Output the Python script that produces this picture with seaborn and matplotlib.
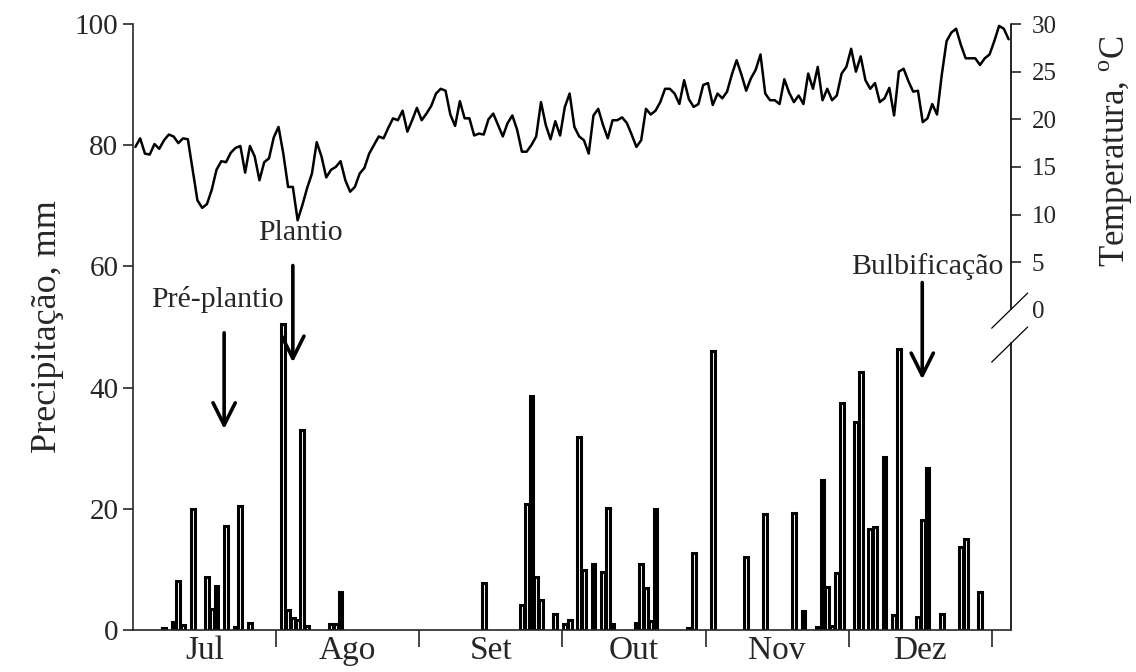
import matplotlib
matplotlib.use("Agg")
import matplotlib.pyplot as plt
import seaborn as sns
import numpy as np
import pandas as pd

# Data: daily rainfall (day index from start of July) and daily mean temperature
rain_day = [6, 8, 9, 10, 12, 15, 16, 17, 19, 21, 22, 24,
            31, 32, 33, 34, 35, 36, 41, 42, 43,
            73, 81, 82, 83, 84, 85, 88, 90, 91,
            93, 94, 96, 98, 99, 100, 105, 106, 107, 108, 109, 116, 117, 121,
            128, 132, 138, 140, 143, 144, 145, 146, 147, 148,
            151, 152, 154, 155, 157, 159, 160, 164, 165, 166, 169, 173, 174, 177]
rain_mm = [0.3, 1.3, 8.1, 0.8, 20.0, 8.7, 3.5, 7.2, 17.2, 0.5, 20.4, 1.1,
           50.5, 3.3, 2.0, 1.7, 33.0, 0.7, 1.0, 1.0, 6.3,
           7.7, 4.1, 20.8, 38.6, 8.8, 5.0, 2.6, 1.0, 1.7,
           31.8, 9.9, 10.9, 9.6, 20.1, 1.0, 1.2, 10.9, 6.9, 1.5, 20.0, 0.3, 12.7, 46.0,
           12.0, 19.1, 19.3, 3.1, 0.5, 24.7, 7.1, 0.6, 9.4, 37.4,
           34.3, 42.6, 16.6, 17.0, 28.5, 2.5, 46.4, 2.1, 18.1, 26.7, 2.6, 13.7, 15.0, 6.3]

temp = [17.1, 18.0, 16.4, 16.3, 17.4, 16.9, 17.8, 18.4, 18.2, 17.5, 18.0, 17.9,
        14.7, 11.5, 10.7, 11.1, 12.6, 14.7, 15.6, 15.5, 16.5, 17.0, 17.2, 14.4,
        17.2, 16.1, 13.6, 15.5, 15.9, 18.1, 19.2, 16.4, 12.9, 12.9, 9.4, 11.0,
        12.8, 14.3, 17.6, 16.1, 13.9, 14.7, 15.0, 15.6, 13.6, 12.4, 12.9, 14.3,
        14.9, 16.4, 17.3, 18.2, 18.0, 19.1, 20.1, 19.9, 20.9, 18.7, 19.9, 21.2,
        19.9, 20.6, 21.4, 22.7, 23.2, 23.0, 20.5, 19.3, 21.9, 20.1, 20.1, 18.3,
        18.5, 18.4, 20.0, 20.6, 19.4, 18.2, 19.6, 20.4, 18.9, 16.6, 16.6, 17.3,
        18.2, 21.8, 19.4, 17.9, 19.8, 18.3, 21.3, 22.7, 19.2, 18.2, 17.8, 16.4,
        20.4, 21.1, 19.4, 18.0, 19.9, 19.9, 20.2, 19.6, 18.4, 17.1, 17.8, 21.1,
        20.5, 20.9, 21.8, 23.2, 23.2, 22.7, 21.6, 24.1, 22.1, 21.3, 21.6, 23.6,
        23.8, 21.5, 22.7, 22.2, 22.9, 24.7, 26.2, 24.7, 23.0, 24.3, 25.2, 26.8,
        22.7, 22.0, 22.0, 21.6, 24.2, 22.8, 21.8, 22.5, 21.6, 24.8, 23.2, 25.5,
        22.0, 23.2, 22.0, 22.5, 24.8, 25.5, 27.4, 25.0, 26.6, 24.1, 23.2, 23.8,
        21.8, 22.2, 23.3, 20.4, 25.0, 25.3, 24.0, 22.9, 23.0, 19.7, 20.1, 21.6,
        20.5, 24.7, 28.2, 29.1, 29.5, 27.8, 26.4, 26.4, 26.4, 25.7, 26.4, 26.8,
        28.2, 29.8, 29.5, 28.4]

months = ["Jul", "Ago", "Set", "Out", "Nov", "Dez"]
month_ticks = [30, 60, 90, 120, 150, 180]
month_label_pos = [15, 45, 75, 105, 135, 165]

events = ["Pré-plantio", "Plantio", "Bulbificação"]
event_day = [19.1, 33.5, 165.4]

rain_df = pd.DataFrame({"day": np.array(rain_day) + 0.5, "mm": rain_mm})
temp_df = pd.DataFrame({"day": np.arange(len(temp)) + 0.5, "temp": temp})

sns.set_style("ticks")
plt.rcParams["font.family"] = ["Liberation Serif", "DejaVu Serif"]
plt.rcParams["mathtext.fontset"] = "custom"
plt.rcParams["mathtext.rm"] = "Liberation Serif"

fig = plt.figure(figsize=(11.36, 6.72), dpi=100)
ax = fig.add_axes([133 / 1136, 1 - 630 / 672, 878 / 1136, 606 / 672])

sns.barplot(data=rain_df, x="day", y="mm", native_scale=True, width=0.8,
            color="white", edgecolor="black", linewidth=2.2, errorbar=None,
            saturation=1, ax=ax)

ax.set_xlim(0, 184)
ax.set_ylim(0, 100)
ax.set_yticks([0, 20, 40, 60, 80, 100])
ax.set_xticks(month_ticks)
ax.set_xticklabels([])
ax.set_xticks(month_label_pos, minor=True)
ax.set_xticklabels(months, minor=True, fontsize=24)
ax.tick_params(axis="x", which="major", length=12, width=1.2, direction="out")
ax.tick_params(axis="x", which="minor", length=0, pad=4)
ax.tick_params(axis="y", length=7, width=1.2, labelsize=21, direction="out")
ax.set_xlabel("")
ax.set_ylabel("Precipitação, mm", fontsize=26, labelpad=8)
for s in ["top", "right"]:
    ax.spines[s].set_visible(False)
ax.spines["left"].set_linewidth(1.2)
ax.spines["bottom"].set_linewidth(1.2)

# temperature on a second axis, drawn in the upper part
ax2 = ax.twinx()
sns.lineplot(data=temp_df, x="day", y="temp", color="black", linewidth=1.8, ax=ax2)
ax2.set_ylim(-33.6, 30)
ax2.set_xlim(0, 184)
ax2.set_yticks([0, 5, 10, 15, 20, 25, 30])
ax2.tick_params(axis="y", length=7, width=1.2, labelsize=18, direction="out", pad=8)
for t in ax2.yaxis.get_major_ticks()[:1]:
    t.tick2line.set_visible(False)
ax2.set_ylabel(r"Temperatura, $^{\mathrm{o}}$C", fontsize=25)
ax2.yaxis.set_label_coords(1.098, 0.79)
for s in ["top", "left", "bottom", "right"]:
    ax2.spines[s].set_visible(False)

# broken right axis line
ax2.plot([1, 1], [0.529, 1], transform=ax2.transAxes, color="black", lw=1.2, clip_on=False)
ax2.plot([1, 1], [0, 0.473], transform=ax2.transAxes, color="black", lw=1.2, clip_on=False)
ax2.plot([0.978, 1.019], [0.498, 0.556], transform=ax2.transAxes, color="black", lw=0.9, clip_on=False)
ax2.plot([0.978, 1.019], [0.442, 0.500], transform=ax2.transAxes, color="black", lw=0.9, clip_on=False)

# event arrows
arrow_top = [49.5, 60.6, 57.8]
arrow_tip = [32.7, 43.7, 40.9]
label_x = [17.8, 35.0, 166.5]
label_y = [54.5, 65.5, 59.9]
for name, d, y0, y1, lx, ly in zip(events, event_day, arrow_top, arrow_tip, label_x, label_y):
    ax.annotate("", xy=(d, y1), xytext=(d, y0),
                arrowprops=dict(arrowstyle="->", lw=2.6, mutation_scale=40, color="black"))
    ax.text(lx, ly, name, ha="center", va="center", fontsize=21.5)

ax.set_zorder(ax2.get_zorder() + 1)
ax.patch.set_visible(False)

plt.savefig("out.png", dpi=100)
